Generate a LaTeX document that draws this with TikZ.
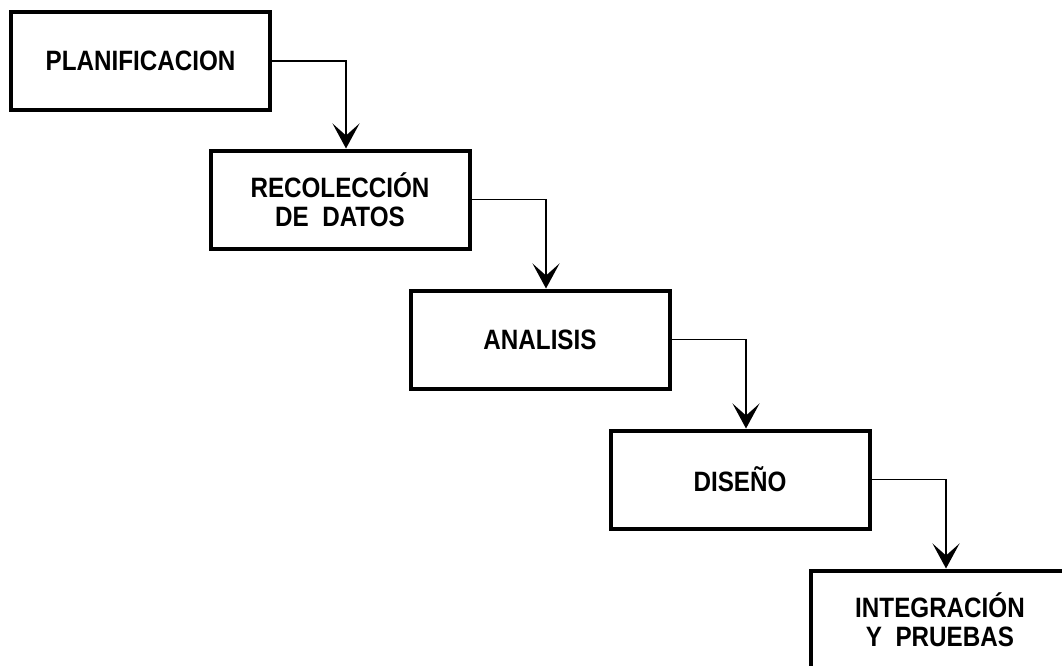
\documentclass[tikz,border=0pt]{standalone}
\usepackage{fontspec}
\setmainfont{Liberation Sans}[FakeStretch=0.865]
\usetikzlibrary{arrows.meta,calc}

\tikzset{
  phase/.style={draw=black, line width=4pt, fill=white,
    minimum width=259pt, minimum height=98pt, inner sep=0pt,
    align=center, font=\fontsize{28pt}{28.5pt}\selectfont\bfseries},
  flow/.style={draw=black, line width=1.9pt,
    -{Stealth[length=25pt, width=27pt, inset=12pt]}}
}

\begin{document}
\begin{tikzpicture}[x=1pt, y=-1pt]
  \useasboundingbox (0,0) rectangle (1062,665);
  \clip (0,0) rectangle (1062,665);
  \fill[white] (0,0) rectangle (1062,665);

  % waterfall of phases, each one step down and to the right
  \node[phase] (plan) at (140.5,61)  {PLANIFICACION};
  \node[phase] (reco) at (340,199.5) {RECOLECCIÓN\\DE\ \ DATOS};
  \node[phase] (anal) at (540,339.5) {ANALISIS};
  \node[phase] (dise) at (740,479.5) {DISEÑO};
  \node[phase] (inte) at (940,619.5) {INTEGRACIÓN\\Y\ \ PRUEBAS};

  % elbow connectors from the right side of a phase to the top of the next
  \draw[flow] (plan.east) -| ($(reco.north)+(6,0)$);
  \draw[flow] (reco.east) -| ($(anal.north)+(6,0)$);
  \draw[flow] (anal.east) -| ($(dise.north)+(6,0)$);
  \draw[flow] (dise.east) -| ($(inte.north)+(6,0)$);
\end{tikzpicture}
\end{document}
